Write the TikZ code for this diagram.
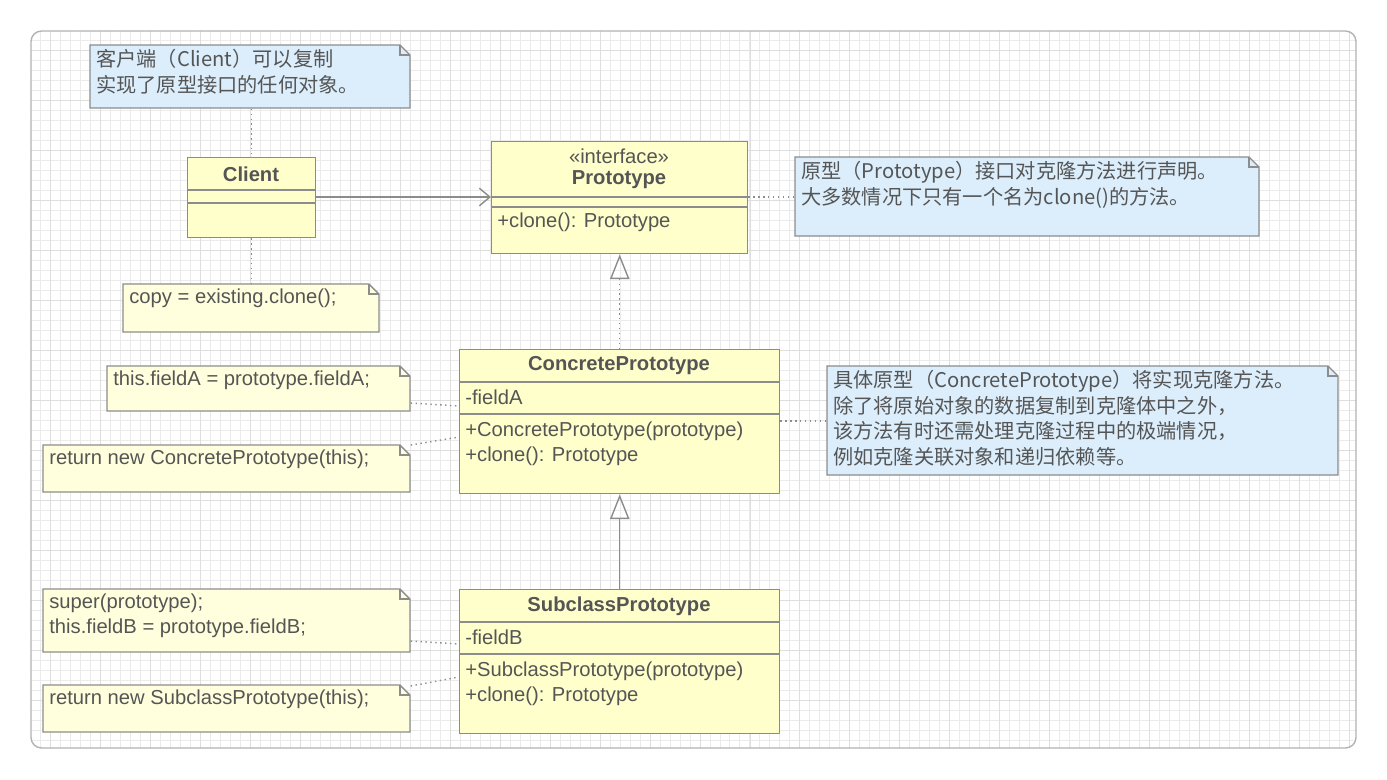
\documentclass[tikz,border=0pt]{standalone}
\usepackage{fontspec}
\setmainfont{Liberation Sans}
\newfontfamily\cjk{Noto Sans CJK SC}
\usetikzlibrary{arrows.meta}
\definecolor{notebl}{HTML}{DCEEFB}
\definecolor{noteyl}{HTML}{FFFFDD}
\definecolor{classyl}{HTML}{FFFFCC}
\definecolor{linegr}{HTML}{8C8C8C}
\definecolor{txtgr}{HTML}{555555}
\tikzstyle{dotline} = [linegr, thick, dotted]
\tikzstyle{inherit} = [linegr, thick, -{Triangle[open,length=14pt,width=11pt]}]
\tikzstyle{assoc} = [linegr, thick, -{Straight Barb[length=6pt,width=10pt]}]
\tikzstyle{txt} = [anchor=north west, inner sep=0pt, align=left, text=txtgr, font=\fontsize{11.5}{14.5}\selectfont]

% name, colour, x1, y1, x2, y2, text
\newcommand{\umlnote}[7]{
  \filldraw[fill=#2, draw=linegr, thick] (#3,#4) -- ({#5-10},#4) -- (#5,{#4+10}) -- (#5,#6) -- (#3,#6) -- cycle;
  \draw[linegr, thick] ({#5-10},#4) -- ({#5-10},{#4+10}) -- (#5,{#4+10});
  \node[inner sep=0pt, minimum width={(#5-#3)*0.02cm}, minimum height={(#6-#4)*0.02cm}, anchor=north west] (#1) at (#3,#4) {};
  \node[txt] (#1t) at ({#3+6},{#4+4}) {#7};
}
% name, x1, y1, x2, y2
\newcommand{\umlclass}[5]{
  \node[draw=linegr, thick, fill=classyl, inner sep=0pt, minimum width={(#4-#2)*0.02cm}, minimum height={(#5-#3)*0.02cm}, anchor=north west] (#1) at (#2,#3) {};
}

\begin{document}
\begin{tikzpicture}[x=0.02cm, y=-0.02cm]
    \useasboundingbox (0,0) rectangle (1387,779);
    % background
    \begin{scope}
    \clip[rounded corners=6pt] (31,31) rectangle (1356,748);
    \fill[white] (31,31) rectangle (1356,748);
    \draw[black!8, step=0.2cm] (31,31) grid (1356,748);
    \draw[black!13, step=1cm] (31,31) grid (1356,748);
    \end{scope}
    \draw[black!30, thick, rounded corners=6pt] (31,31) rectangle (1356,748);

    % client
    \umlnote{cnote}{notebl}{90}{45}{410}{108}{\cjk 客户端（Client）可以复制\\\cjk 实现了原型接口的任何对象。}
    \umlclass{client}{187}{157}{315}{237}
    \node[txt, anchor=center, font=\bfseries\fontsize{11.5}{14}\selectfont] (clientn) at (251,174) {Client};
    \draw[linegr, thick] (client.west |- 0,190) -- (client.east |- 0,190);
    \draw[linegr, thick] (client.west |- 0,203) -- (client.east |- 0,203);
    \umlnote{copynote}{noteyl}{123}{284}{379}{332}{copy = existing.clone();}
    \draw[dotline] (cnote.south -| client.north) -- (client.north);
    \draw[dotline] (client.south) -- (copynote.north -| client.south);

    % prototype
    \umlclass{proto}{491}{141}{747}{253}
    \node[txt, anchor=center] (protos) at (619,156) {«interface»};
    \node[txt, anchor=center, font=\bfseries\fontsize{11.5}{14}\selectfont] (proton) at (619,180) {Prototype};
    \draw[linegr, thick] (proto.west |- 0,197) -- (proto.east |- 0,197);
    \draw[linegr, thick] (proto.west |- 0,207) -- (proto.east |- 0,207);
    \node[txt] (protom) at (497,212) {+clone(): Prototype};
    \umlnote{pnote}{notebl}{795}{157}{1259}{236}{\cjk 原型（Prototype）接口对克隆方法进行声明。\\\cjk 大多数情况下只有一个名为clone()的方法。}
    \draw[dotline] (proto.east |- 0,197) -- (pnote.west |- 0,197);
    \draw[assoc] (client.east |- 0,197) -- (proto.west |- 0,197);

    % concrete prototype
    \umlclass{conc}{459}{349}{779}{493}
    \node[txt, anchor=center, font=\bfseries\fontsize{11.5}{14}\selectfont] (concn) at (619,366) {ConcretePrototype};
    \draw[linegr, thick] (conc.west |- 0,382) -- (conc.east |- 0,382);
    \node[txt] (concf) at (465,389) {-fieldA};
    \draw[linegr, thick] (conc.west |- 0,414) -- (conc.east |- 0,414);
    \node[txt] (concm) at (465,421) {+ConcretePrototype(prototype)\\+clone(): Prototype};
    \umlnote{cnoteb}{notebl}{827}{366}{1338}{475}{\cjk 具体原型（ConcretePrototype）将实现克隆方法。\\\cjk 除了将原始对象的数据复制到克隆体中之外，\\\cjk 该方法有时还需处理克隆过程中的极端情况，\\\cjk 例如克隆关联对象和递归依赖等。}
    \draw[dotline] (conc.east |- 0,421) -- (cnoteb.west |- 0,421);
    \umlnote{fanote}{noteyl}{107}{366}{410}{411}{this.fieldA = prototype.fieldA;}
    \umlnote{cretnote}{noteyl}{43}{445}{410}{492}{return new ConcretePrototype(this);}
    \draw[dotline] (fanote.east |- 0,403) -- (conc.west |- 0,406);
    \draw[dotline] (cretnote.east |- 0,445) -- (conc.west |- 0,437);
    \draw[inherit, dotted] (conc.north) -- (proto.south);

    % subclass prototype
    \umlclass{sub}{459}{589}{779}{733}
    \node[txt, anchor=center, font=\bfseries\fontsize{11.5}{14}\selectfont] (subn) at (619,606) {SubclassPrototype};
    \draw[linegr, thick] (sub.west |- 0,622) -- (sub.east |- 0,622);
    \node[txt] (subf) at (465,629) {-fieldB};
    \draw[linegr, thick] (sub.west |- 0,654) -- (sub.east |- 0,654);
    \node[txt] (subm) at (465,661) {+SubclassPrototype(prototype)\\+clone(): Prototype};
    \umlnote{fbnote}{noteyl}{43}{589}{410}{652}{super(prototype);\\this.fieldB = prototype.fieldB;}
    \umlnote{sretnote}{noteyl}{43}{685}{410}{732}{return new SubclassPrototype(this);}
    \draw[dotline] (fbnote.east |- 0,641) -- (sub.west |- 0,644);
    \draw[dotline] (sretnote.east |- 0,686) -- (sub.west |- 0,677);
    \draw[inherit] (sub.north) -- (conc.south);
\end{tikzpicture}
\end{document}
